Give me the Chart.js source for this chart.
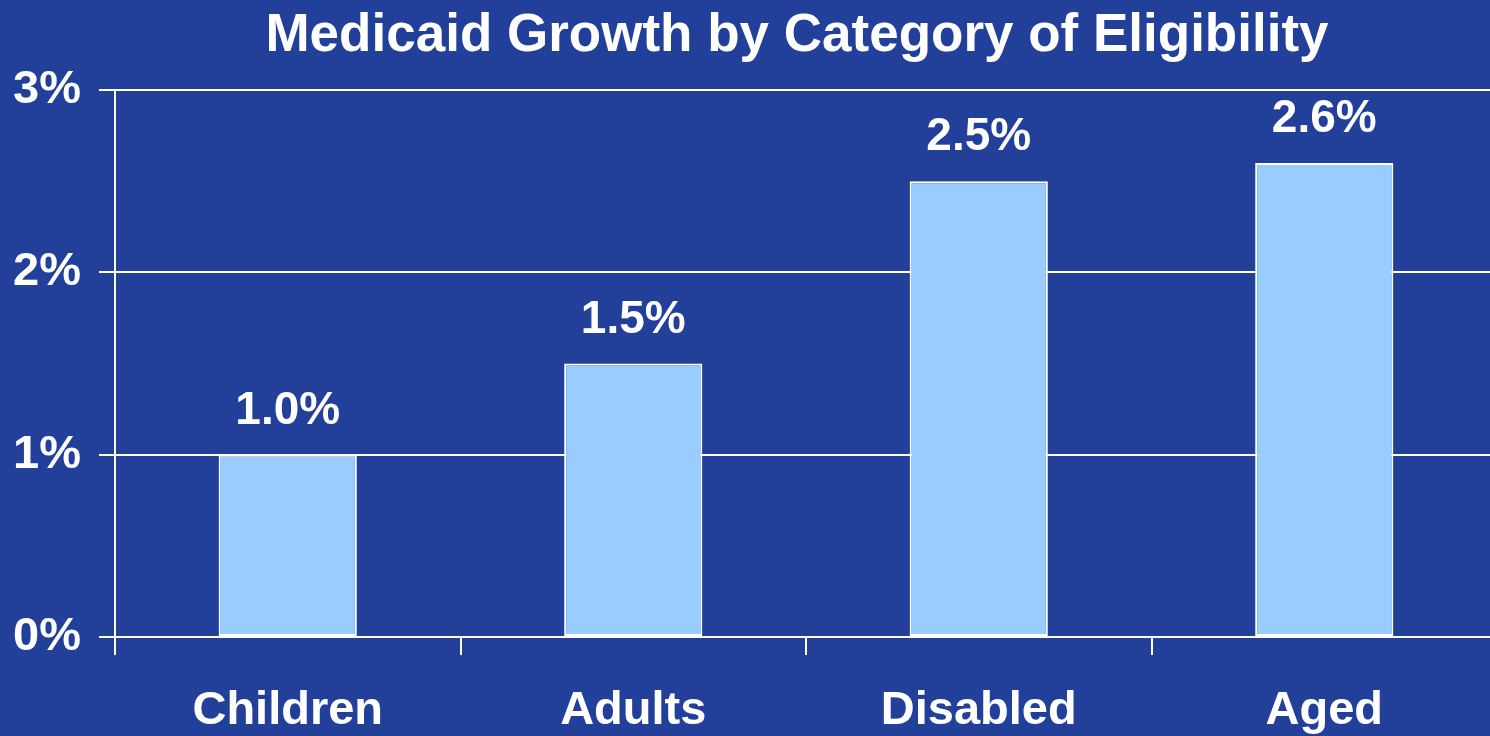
<!DOCTYPE html>
<html>
<head>
<meta charset="utf-8">
<title>Medicaid Growth by Category of Eligibility</title>
<script src="https://cdn.jsdelivr.net/npm/chart.js@4"></script>
<style>
  html, body { margin: 0; padding: 0; background: #22409a; overflow: hidden; }
  canvas { display: block; }
</style>
</head>
<body>
<canvas id="growth" width="1500" height="736"></canvas>
<script>
const categories = ['Children', 'Adults', 'Disabled', 'Aged'];
const growthPct = [1.0, 1.5, 2.5, 2.6];
const titleText = 'Medicaid Growth by Category of Eligibility';

const bg = '#22409a';
const fontFamily = '"Liberation Sans", Arial, Helvetica, sans-serif';

// paint the slide-blue background behind everything
const background = {
    id: 'background',
    beforeDraw(chart) {
        const c = chart.ctx;
        c.save();
        c.fillStyle = bg;
        c.fillRect(0, 0, chart.width, chart.height);
        c.restore();
    }
};

// title across the top, plus the value printed above each bar
const annotations = {
    id: 'annotations',
    afterDatasetsDraw(chart) {
        const c = chart.ctx;
        c.save();
        c.fillStyle = '#ffffff';
        c.textAlign = 'center';
        c.textBaseline = 'alphabetic';

        c.font = 'bold 53px ' + fontFamily;
        c.fillText(titleText, 797, 51);

        c.font = 'bold 46px ' + fontFamily;
        chart.getDatasetMeta(0).data.forEach((bar, i) => {
            c.fillText(growthPct[i].toFixed(1) + '%', bar.x, bar.y - 31);
        });
        c.restore();
    }
};

const ctx = document.getElementById('growth').getContext('2d');
const growthChart = new Chart(ctx, {
    type: 'bar',
    data: {
        labels: categories,
        datasets: [{
            label: 'Growth',
            data: growthPct,
            backgroundColor: '#99ccff',
            borderColor: '#ffffff',
            borderWidth: 2,
            borderSkipped: false,
            categoryPercentage: 1,
            barPercentage: 0.4
        }]
    },
    options: {
        responsive: false,
        animation: false,
        layout: {
            padding: { top: 90, right: 3, left: 0, bottom: 0 }
        },
        plugins: {
            legend: { display: false },
            tooltip: { enabled: false }
        },
        scales: {
            x: {
                afterFit(scale) { scale.height = 99; },
                grid: {
                    offset: true,
                    drawOnChartArea: false,
                    color: '#ffffff',
                    lineWidth: 2,
                    tickLength: 18
                },
                border: { color: '#ffffff', width: 2 },
                ticks: {
                    color: '#ffffff',
                    padding: 28,
                    maxRotation: 0,
                    font: { family: fontFamily, size: 47, weight: 'bold' }
                }
            },
            y: {
                min: 0,
                max: 3,
                afterFit(scale) { scale.width = 115; },
                grid: {
                    color: '#ffffff',
                    lineWidth: 2,
                    tickLength: 16
                },
                border: { color: '#ffffff', width: 2 },
                ticks: {
                    stepSize: 1,
                    color: '#ffffff',
                    padding: 18,
                    font: { family: fontFamily, size: 47, weight: 'bold' },
                    callback: (v) => v + '%'
                }
            }
        }
    },
    plugins: [background, annotations]
});
</script>
</body>
</html>
